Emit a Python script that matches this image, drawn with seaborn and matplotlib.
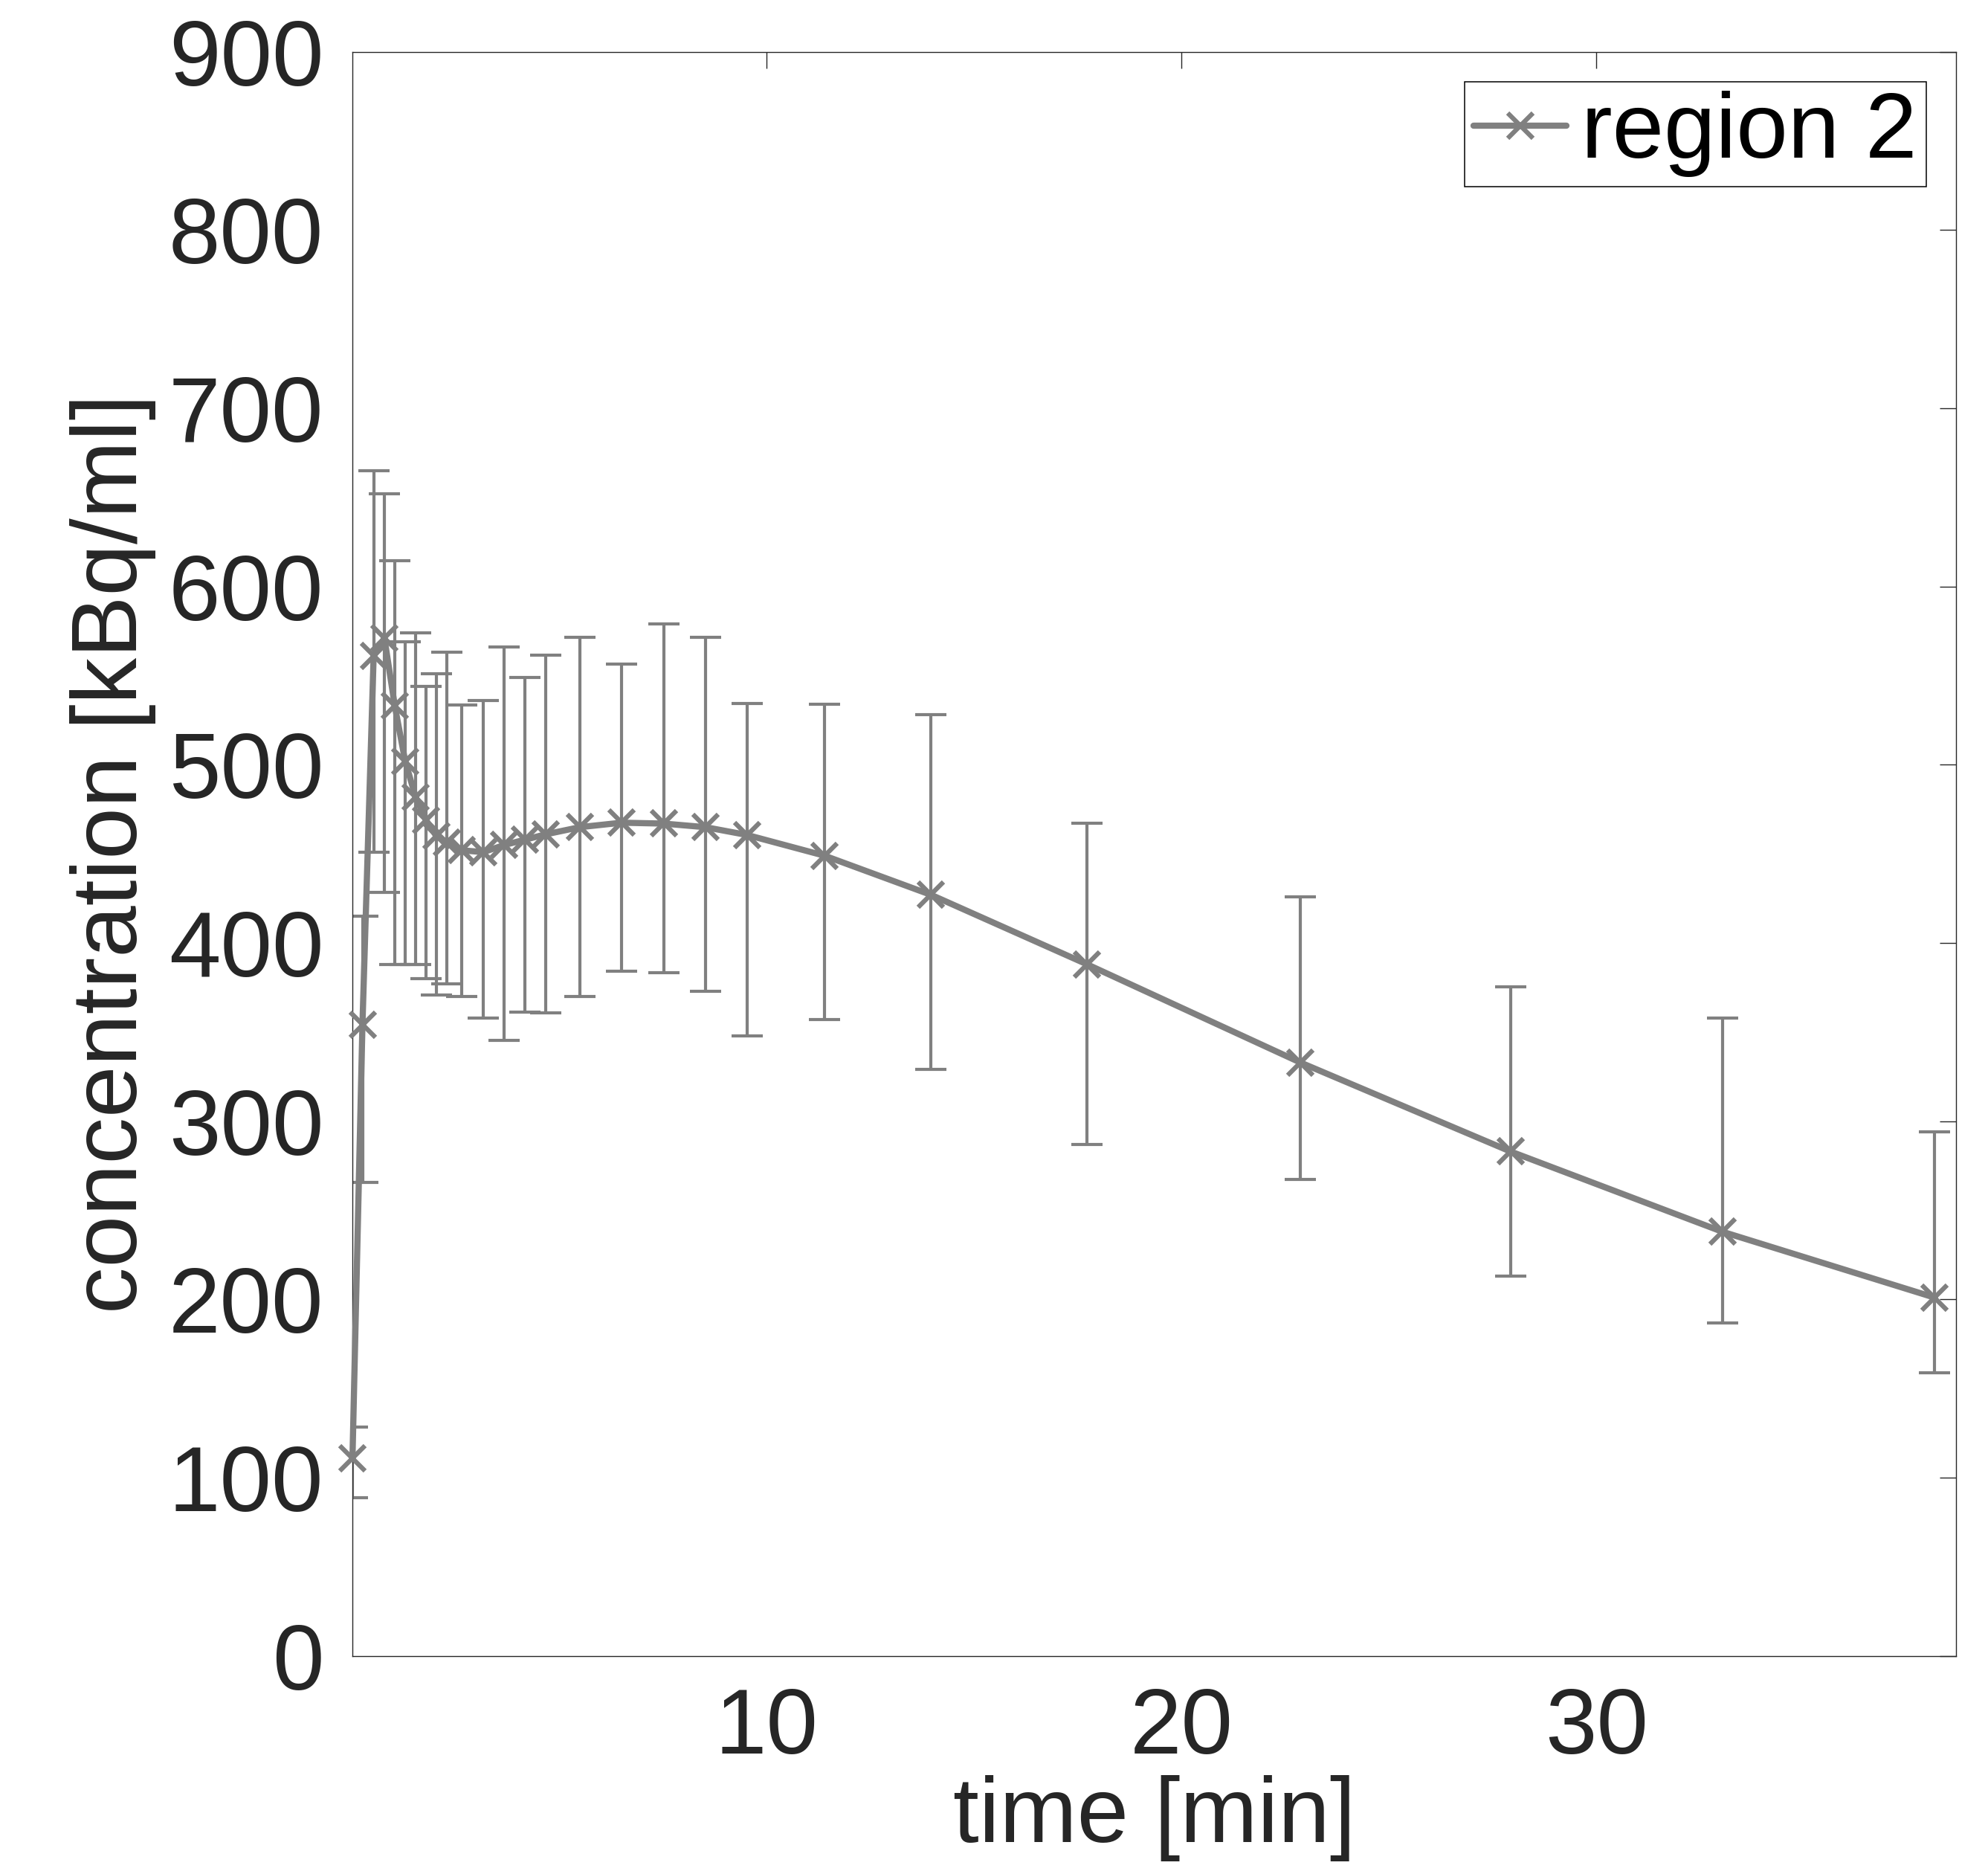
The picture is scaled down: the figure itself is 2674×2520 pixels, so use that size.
import numpy as np
import pandas as pd
import matplotlib
matplotlib.use("Agg")
import matplotlib.pyplot as plt
import seaborn as sns

# ---- data ----
time_min = [0.03, 0.27, 0.54, 0.80, 1.05, 1.30, 1.55, 1.80, 2.05, 2.31,
            2.67, 3.18, 3.69, 4.19, 4.69, 5.51, 6.51, 7.53, 8.53, 9.54,
            11.4, 13.97, 17.73, 22.86, 27.93, 33.03, 38.15]
conc_mean = [111, 354, 561, 571, 533, 502, 482, 469, 460, 456.5,
             452, 451, 455, 458, 461, 465, 467.5, 467, 465, 460.6,
             449, 427, 388, 333, 283, 238, 201]
conc_upper = [128.5, 415, 665, 652, 614.5, 569, 574, 544, 551, 563,
              533.5, 536, 566, 549, 561.5, 571.5, 556.5, 579, 571.5, 534.5,
              534, 528, 467, 426, 375.5, 358, 294]
conc_lower = [88.7, 265.6, 451, 428.6, 388, 388, 388, 380, 371, 377,
              370, 358, 345.4, 361.4, 360.7, 370, 384, 383.5, 373, 348,
              357, 329, 287, 267.5, 213, 187, 158.7]
series_label = "region 2"
y_ticks = [0, 100, 200, 300, 400, 500, 600, 700, 800, 900]
x_ticks = [10, 20, 30]

df = pd.DataFrame({"time": time_min, "conc": conc_mean})

sns.set_style("white")
plt.rcParams["font.family"] = ["Liberation Sans", "DejaVu Sans"]

GRAY = "#808080"
DARK = "#262626"

fig = plt.figure(figsize=(26.74, 25.20), dpi=100)
ax = fig.add_axes([0.1773, 0.1164, 0.8068, 0.8559])

yerr = [np.array(conc_mean) - np.array(conc_lower),
        np.array(conc_upper) - np.array(conc_mean)]
ax.errorbar(time_min, conc_mean, yerr=yerr, fmt="none", ecolor=GRAY,
            elinewidth=3.0, capsize=15, capthick=3.0, zorder=2)

sns.lineplot(data=df, x="time", y="conc", ax=ax, color=GRAY, linewidth=6.0,
             marker="x", markersize=24, markeredgewidth=4.5, markeredgecolor=GRAY,
             sort=False, estimator=None, label=series_label, zorder=3)
for ln in ax.get_lines():
    if ln.get_label() == series_label:
        ln.set_clip_on(False)

ax.set_xlim(0.03, 38.67)
ax.set_ylim(0, 900)
ax.set_xticks(x_ticks)
ax.set_yticks(y_ticks)
ax.tick_params(axis="both", which="both", direction="in", length=15.6, width=1.0,
               colors=DARK, labelsize=90, top=True, right=True)
ax.tick_params(axis="y", pad=28)
ax.tick_params(axis="x", pad=30)
for s in ax.spines.values():
    s.set_visible(True)
    s.set_color(DARK)
    s.set_linewidth(1.0)

ax.set_xlabel("time [min]", fontsize=90, color=DARK, labelpad=2)
ax.set_ylabel("concentration [kBq/ml]", fontsize=90, color=DARK, labelpad=12)

leg = ax.legend(loc="upper right", fontsize=90, frameon=True, fancybox=False,
                handlelength=1.0, handletextpad=0.16, borderaxespad=0.32,
                borderpad=0.1, framealpha=1.0)
leg.get_frame().set_edgecolor("#000000")
leg.get_frame().set_linewidth(1.1)
for txt in leg.get_texts():
    txt.set_color("#000000")

fig.savefig("out.png", dpi=100)
